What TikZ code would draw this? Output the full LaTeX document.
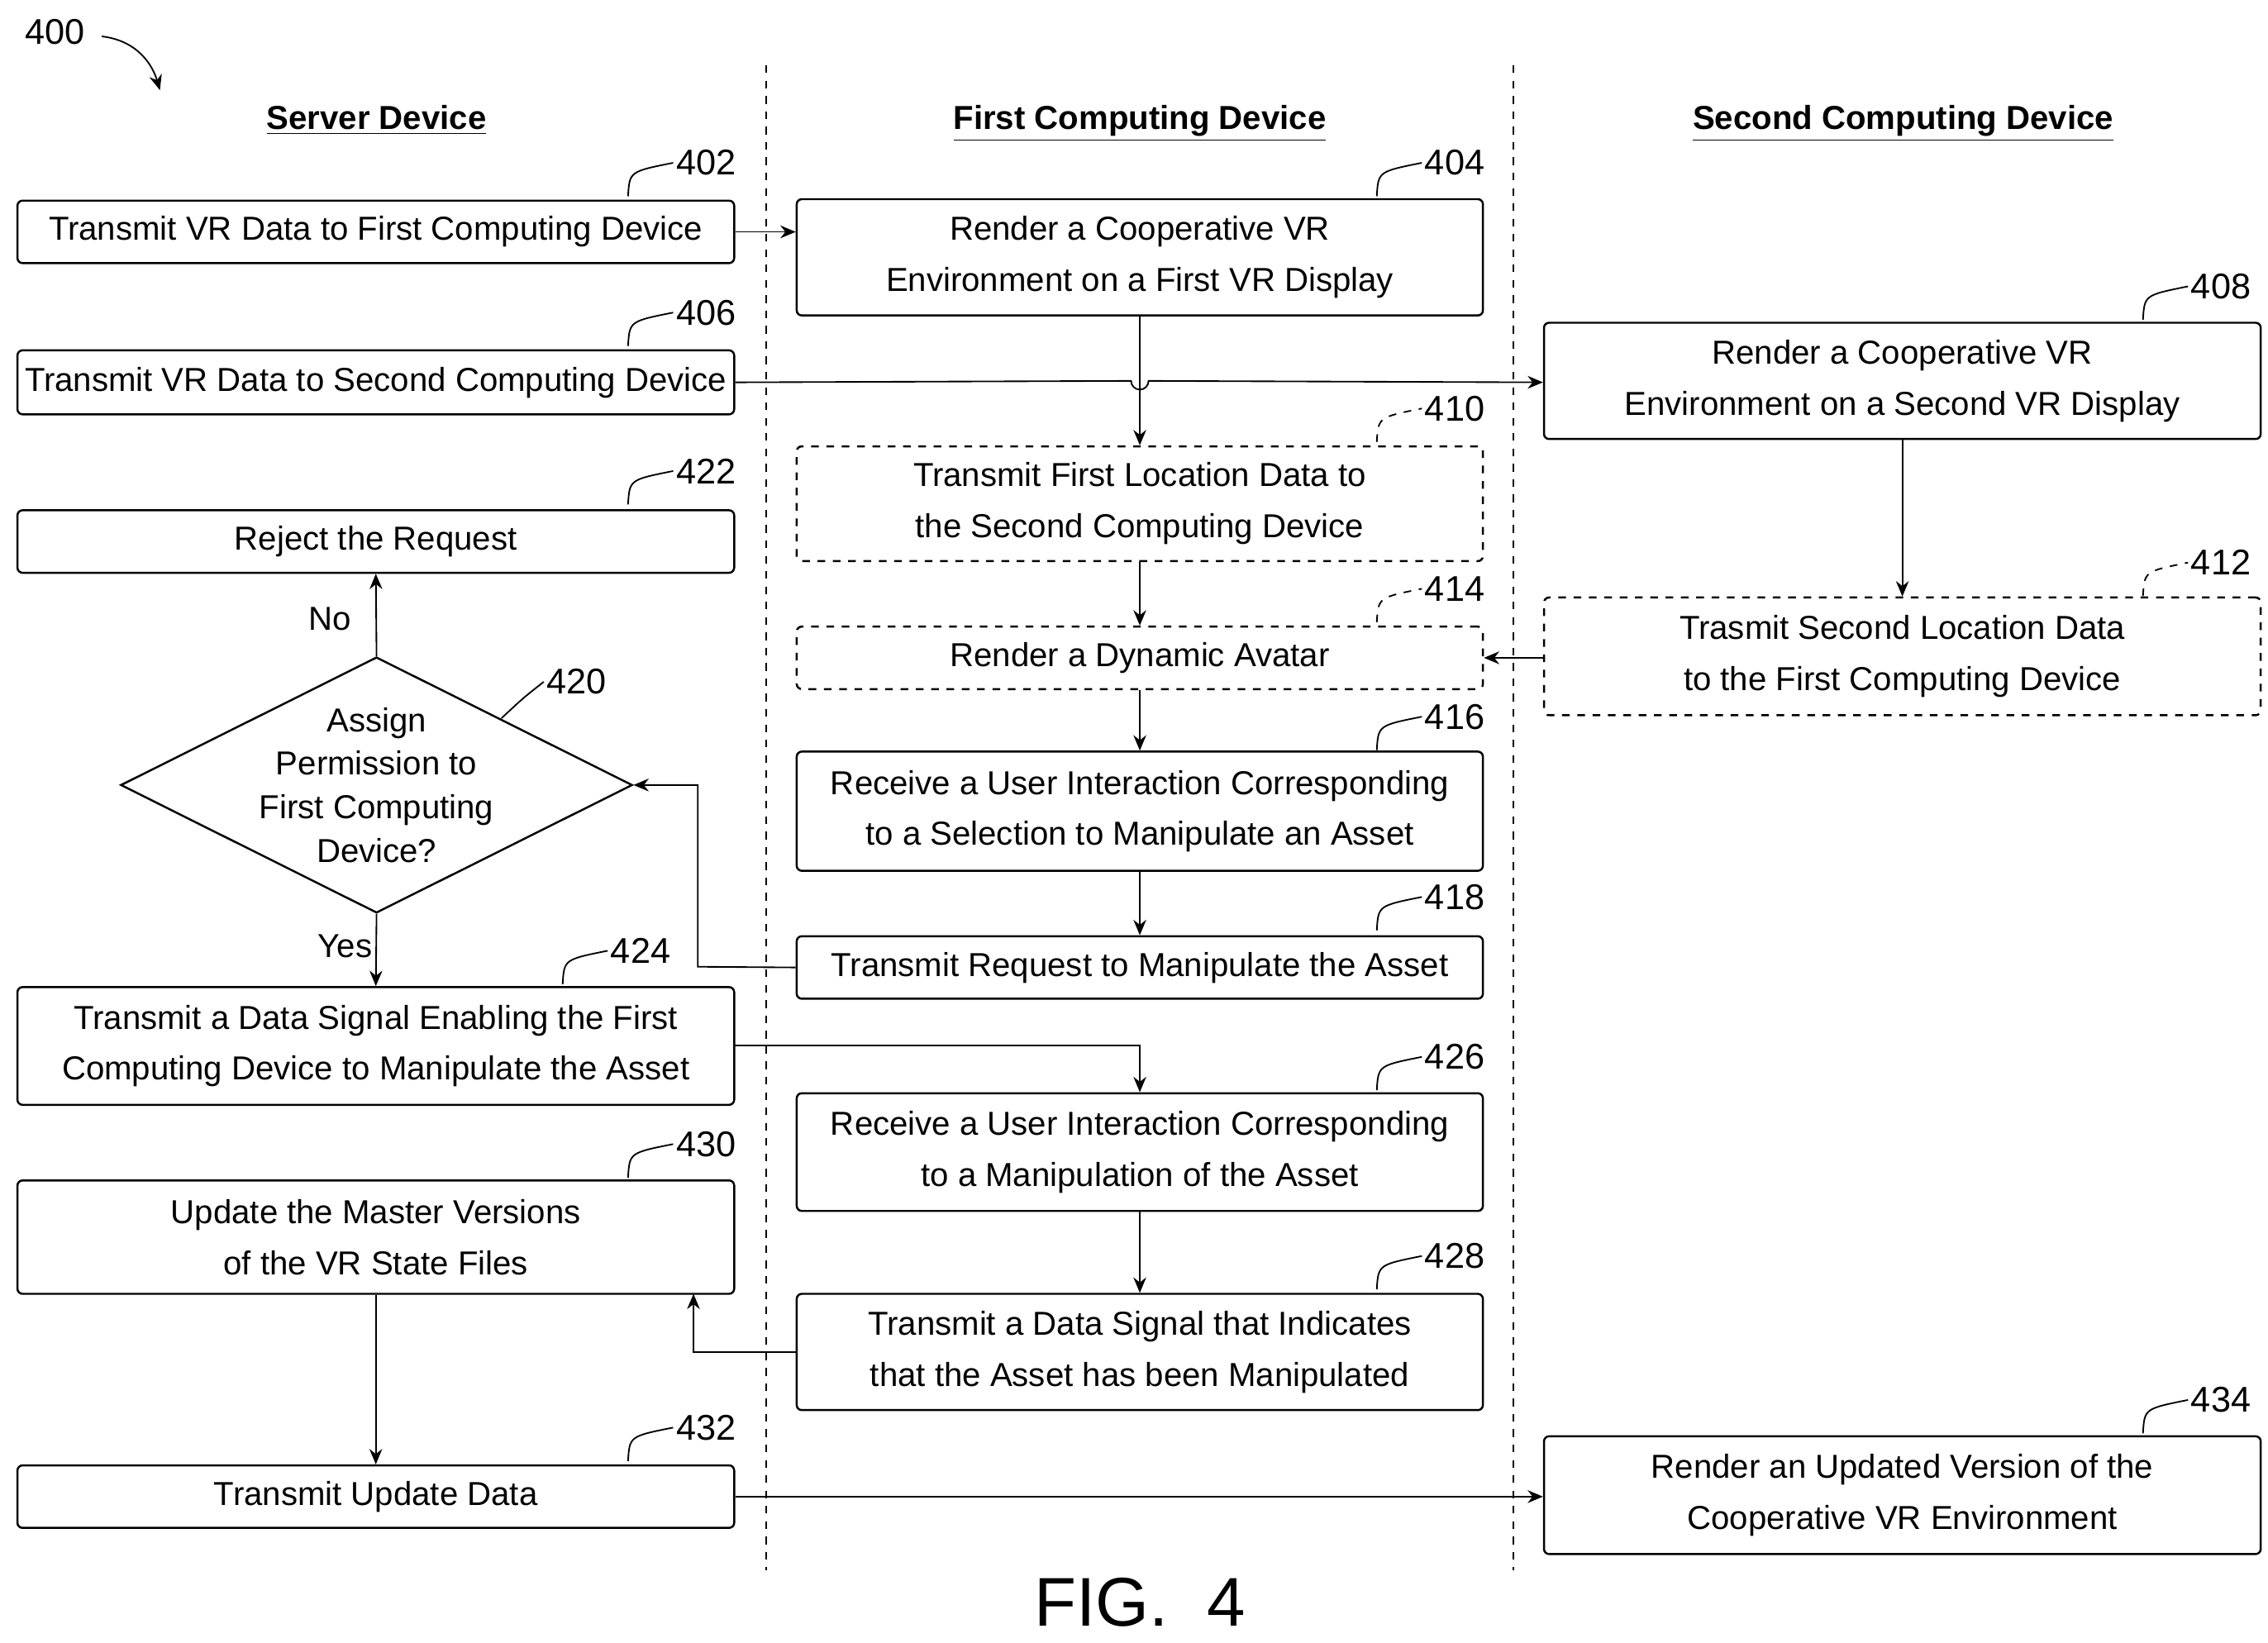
\documentclass[tikz,border=0pt]{standalone}
\usepackage{fontspec}
\setmainfont{Liberation Sans}
\usetikzlibrary{shapes.geometric,arrows.meta}
\begin{document}
\begin{tikzpicture}[x=0.02cm,y=-0.02cm,
  box/.style={draw,rounded corners=2pt,line width=0.8pt,align=center,inner sep=0pt,font=\fontsize{13}{20}\selectfont},
  dbox/.style={box,dashed},
  arr/.style={-{Stealth[length=6pt,width=5pt]},line width=0.6pt},
  lab/.style={font=\fontsize{14}{16}\selectfont,anchor=west,inner sep=1pt},
  hdr/.style={font=\bfseries\fontsize{13}{16}\selectfont,anchor=base}]
\useasboundingbox (0,0) rectangle (1560,1130);
\newcommand{\mkbox}[6]{\node[#6,minimum width={(#3-#1)*0.02cm},minimum height={(#4-#2)*0.02cm}] (#5) at ({(#1+#3)/2},{(#2+#4)/2}) {};}
\newcommand{\lead}[4][]{\node[lab] (l#4) at (#2,#3) {#4};\draw[line width=0.6pt,#1] (#2-31,#3+23) .. controls (#2-30,#3+6) .. (#2,#3);}
% headers
\node[hdr] (h1) at (259,89) {\underline{Server Device}};
\node[hdr] (h2) at (784,89) {\underline{First Computing Device}};
\node[hdr] (h3) at (1309,89) {\underline{Second Computing Device}};
\draw[dashed,line width=0.5pt] (527,45) -- (527,1080) (1041,45) -- (1041,1080);
\node[font=\fontsize{14}{16}\selectfont] (n400) at (38,22) {400};
\coordinate (a400) at (110,62);
\draw[arr] (70,25) .. controls (95,28) and (105,45) .. (a400);
% boxes
\mkbox{12}{138}{505}{181}{b402}{box}
\node[box,draw=none] at (b402) {Transmit VR Data to First Computing Device};
\mkbox{548}{137}{1020}{217}{b404}{box}
\node[box,draw=none] at (b404) {Render a Cooperative VR\\Environment on a First VR Display};
\mkbox{12}{241}{505}{285}{b406}{box}
\node[box,draw=none] at (b406) {Transmit VR Data to Second Computing Device};
\mkbox{1062}{222}{1555}{302}{b408}{box}
\node[box,draw=none] at (b408) {Render a Cooperative VR\\Environment on a Second VR Display};
\mkbox{548}{307}{1020}{386}{b410}{dbox}
\node[box,draw=none] at (b410) {Transmit First Location Data to\\the Second Computing Device};
\mkbox{12}{351}{505}{394}{b422}{box}
\node[box,draw=none] at (b422) {Reject the Request};
\mkbox{1062}{411}{1555}{492}{b412}{dbox}
\node[box,draw=none] at (b412) {Trasmit Second Location Data\\to the First Computing Device};
\mkbox{548}{431}{1020}{474}{b414}{dbox}
\node[box,draw=none] at (b414) {Render a Dynamic Avatar};
\mkbox{548}{517}{1020}{599}{b416}{box}
\node[box,draw=none] at (b416) {Receive a User Interaction Corresponding\\to a Selection to Manipulate an Asset};
\mkbox{548}{644}{1020}{687}{b418}{box}
\node[box,draw=none] at (b418) {Transmit Request to Manipulate the Asset};
\mkbox{12}{679}{505}{760}{b424}{box}
\node[box,draw=none] at (b424) {Transmit a Data Signal Enabling the First\\Computing Device to Manipulate the Asset};
\mkbox{548}{752}{1020}{833}{b426}{box}
\node[box,draw=none] at (b426) {Receive a User Interaction Corresponding\\to a Manipulation of the Asset};
\mkbox{12}{812}{505}{890}{b430}{box}
\node[box,draw=none] at (b430) {Update the Master Versions\\of the VR State Files};
\mkbox{548}{890}{1020}{970}{b428}{box}
\node[box,draw=none] at (b428) {Transmit a Data Signal that Indicates\\that the Asset has been Manipulated};
\mkbox{12}{1008}{505}{1051}{b432}{box}
\node[box,draw=none] at (b432) {Transmit Update Data};
\mkbox{1062}{988}{1555}{1069}{b434}{box}
\node[box,draw=none] at (b434) {Render an Updated Version of the\\Cooperative VR Environment};
\node[diamond,draw,line width=0.8pt,minimum width=352*0.02cm,minimum height=176*0.02cm,inner sep=0pt] (d420) at (259,540) {};
\node[align=center,font=\fontsize{13}{17}\selectfont] at (259,540) {Assign\\Permission to\\First Computing\\Device?};
% labels
\lead{463}{112}{402}
\lead{978}{112}{404}
\lead{463}{215}{406}
\lead{1505}{197}{408}
\lead[dashed]{978}{281}{410}
\lead{463}{324}{422}
\lead[dashed]{1505}{387}{412}
\lead[dashed]{978}{405}{414}
\lead{978}{493}{416}
\lead{978}{617}{418}
\lead{418}{654}{424}
\lead{978}{727}{426}
\lead{463}{787}{430}
\lead{978}{864}{428}
\lead{463}{982}{432}
\lead{1505}{963}{434}
\node[lab] (l420) at (374,469) {420};
\draw[line width=0.6pt] (345,494) .. controls (360,480) .. (l420.west);
% arrows
\draw[arr] (b402.east) -- (b404.west |- b402.east);
\draw[arr] (b406.east) -- (778,262) arc (180:0:6) -- (b408.west |- b406.east);
\draw[arr] (b404.south) -- (b410.north);
\draw[arr] (b410.south) -- (b414.north);
\draw[arr] (b408.south) -- (b412.north);
\draw[arr] (b412.west |- b414.east) -- (b414.east);
\draw[arr] (b414.south) -- (b416.north);
\draw[arr] (b416.south) -- (b418.north);
\draw[arr] (b418.west) -- (480,665) -- (480,540) -- (d420.east);
\draw[arr] (d420.north) -- node[right,pos=0.45,font=\fontsize{13}{16}\selectfont,xshift=-30pt] {No} (b422.south);
\draw[arr] (d420.south) -- node[left,pos=0.45,font=\fontsize{13}{16}\selectfont,xshift=2pt] {Yes} (b424.north);
\draw[arr] (505,719) -- (784,719) -- (b426.north);
\draw[arr] (b426.south) -- (b428.north);
\draw[arr] (b428.west) -- (477,930) -- (477,890);
\draw[arr] (b430.south) -- (b432.north);
\draw[arr] (b432.east) -- (b434.west |- b432.east);
\node[font=\fontsize{27}{30}\selectfont] (fig) at (784,1102) {FIG.\ \ 4};
\end{tikzpicture}
\end{document}
